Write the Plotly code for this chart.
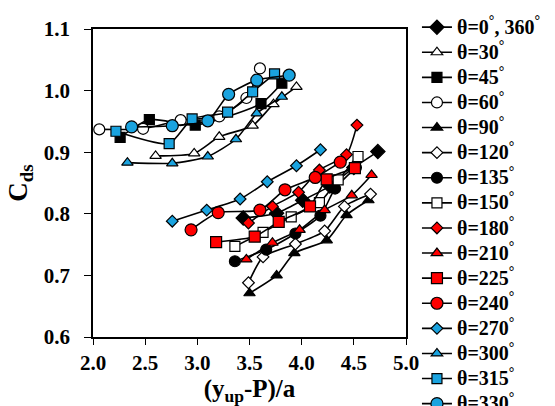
import plotly.graph_objects as go

# ---- data (x = (y_up-P)/a, y = C_ds) ----
labels = ["θ=0<sup>°</sup>, 360<sup>°</sup>", "θ=30<sup>°</sup>", "θ=45<sup>°</sup>", "θ=60<sup>°</sup>",
          "θ=90<sup>°</sup>", "θ=120<sup>°</sup>", "θ=135<sup>°</sup>", "θ=150<sup>°</sup>",
          "θ=180<sup>°</sup>", "θ=210<sup>°</sup>", "θ=225<sup>°</sup>", "θ=240<sup>°</sup>",
          "θ=270<sup>°</sup>", "θ=300<sup>°</sup>", "θ=315<sup>°</sup>", "θ=330<sup>°</sup>"]

x0 = [3.44, 3.76, 4.01, 4.27, 4.50, 4.73]
y0 = [0.793, 0.801, 0.822, 0.845, 0.875, 0.901]
x30 = [2.60, 2.97, 3.21, 3.53, 3.73, 3.95]
y30 = [0.894, 0.898, 0.925, 0.943, 0.978, 1.006]
x45 = [2.26, 2.54, 2.98, 3.61, 3.81]
y45 = [0.924, 0.953, 0.944, 0.979, 1.012]
x60 = [2.06, 2.48, 2.84, 3.21, 3.47, 3.60]
y60 = [0.937, 0.938, 0.952, 0.958, 0.988, 1.036]
x90 = [3.50, 3.76, 3.93, 4.24, 4.43, 4.64]
y90 = [0.671, 0.700, 0.736, 0.757, 0.798, 0.822]
x120 = [3.49, 3.63, 3.94, 4.22, 4.41, 4.66]
y120 = [0.688, 0.730, 0.751, 0.772, 0.812, 0.832]
x135 = [3.36, 3.66, 3.94, 4.18, 4.32, 4.52]
y135 = [0.723, 0.742, 0.768, 0.797, 0.841, 0.875]
x150 = [3.36, 3.63, 3.90, 4.17, 4.35, 4.54]
y150 = [0.747, 0.770, 0.795, 0.818, 0.855, 0.893]
x180 = [3.49, 3.72, 3.97, 4.17, 4.43, 4.53]
y180 = [0.785, 0.812, 0.835, 0.871, 0.896, 0.944]
x210 = [3.47, 3.72, 3.98, 4.22, 4.48, 4.67]
y210 = [0.726, 0.753, 0.774, 0.806, 0.830, 0.863]
x225 = [3.18, 3.55, 3.78, 4.08, 4.24, 4.51]
y225 = [0.754, 0.763, 0.787, 0.812, 0.856, 0.874]
x240 = [2.94, 3.20, 3.60, 3.84, 4.13, 4.37]
y240 = [0.774, 0.802, 0.806, 0.839, 0.859, 0.884]
x270 = [2.76, 3.09, 3.41, 3.67, 3.95, 4.18]
y270 = [0.788, 0.806, 0.824, 0.852, 0.878, 0.904]
x300 = [2.33, 2.76, 3.10, 3.37, 3.57, 3.81]
y300 = [0.883, 0.882, 0.893, 0.921, 0.963, 0.990]
x315 = [2.22, 2.73, 2.95, 3.29, 3.53, 3.74]
y315 = [0.934, 0.914, 0.954, 0.965, 0.998, 1.027]
x330 = [2.37, 2.76, 3.10, 3.30, 3.57, 3.88]
y330 = [0.941, 0.943, 0.951, 0.994, 1.017, 1.025]

xs = [x0, x30, x45, x60, x90, x120, x135, x150, x180, x210, x225, x240, x270, x300, x315, x330]
ys = [y0, y30, y45, y60, y90, y120, y135, y150, y180, y210, y225, y240, y270, y300, y315, y330]

BLUE = "#1AA3DF"
RED = "#FF0000"
styles = [
    ("diamond", "black", 11), ("triangle-up", "white", 10), ("square", "black", 10), ("circle", "white", 11),
    ("triangle-up", "black", 10), ("diamond", "white", 9), ("circle", "black", 11), ("square", "white", 10),
    ("diamond", RED, 9), ("triangle-up", RED, 10), ("square", RED, 11), ("circle", RED, 12),
    ("diamond", BLUE, 9), ("triangle-up", BLUE, 10), ("square", BLUE, 10), ("circle", BLUE, 12),
]

fig = go.Figure()
for lab, x, y, (sym, col, sz) in zip(labels, xs, ys, styles):
    fig.add_trace(go.Scatter(
        x=x, y=y, name='<span style="font-size:20px">' + lab + '</span>', mode="lines+markers",
        line=dict(color="black", width=1.6, shape="spline", smoothing=0.6),
        marker=dict(symbol=sym, color=col, size=sz, line=dict(color="black", width=1.2)),
    ))

serif = "Liberation Serif, Times New Roman, serif"
fig.update_layout(
    width=555, height=406,
    paper_bgcolor="white", plot_bgcolor="white",
    margin=dict(l=93, r=149, t=29, b=69, autoexpand=False),
    font=dict(family=serif, color="black"),
    legend=dict(x=1.035, xanchor="left", y=1.063, yanchor="top",
                font=dict(family=serif, size=17, color="black", weight="bold"),
                tracegroupgap=0, itemwidth=30, bgcolor="rgba(0,0,0,0)",
                borderwidth=0, maxheight=2000),
    xaxis=dict(range=[2.0, 5.0], dtick=0.5, tickformat=".1f", showgrid=False, zeroline=False,
               showline=True, linecolor="black", linewidth=1.5, mirror=True,
               ticks="outside", ticklen=6, tickcolor="black",
               tickfont=dict(family=serif, size=21, weight="bold"),
               title=dict(text="(y<sub>up</sub>-P)/a", font=dict(family=serif, size=25, weight="bold"),
                          standoff=6)),
    yaxis=dict(range=[0.6, 1.1], dtick=0.1, tickformat=".1f", showgrid=False, zeroline=False,
               showline=True, linecolor="black", linewidth=1.5, mirror=True,
               ticks="outside", ticklen=7, tickcolor="black", ticklabelstandoff=10,
               tickfont=dict(family=serif, size=21, weight="bold"),
               title=dict(text="C<sub>ds</sub>", font=dict(family=serif, size=27, weight="bold"),
                          standoff=8)),
)
fig.write_html("out.html", config={"displayModeBar": False},
               post_script="document.body.style.margin='0';document.body.style.overflow='hidden';")
